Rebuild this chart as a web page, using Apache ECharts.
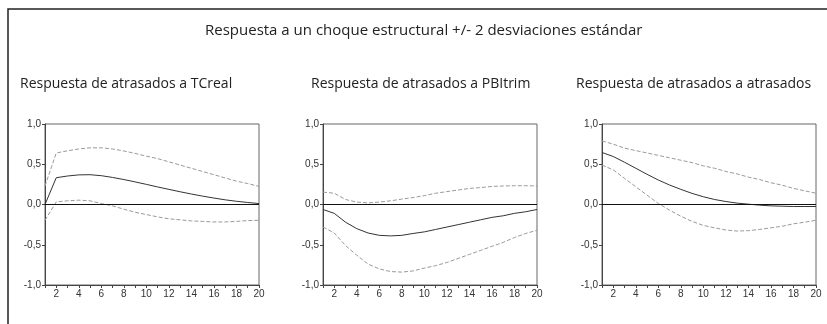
<!DOCTYPE html>
<html><head><meta charset="utf-8">
<script src="https://cdn.jsdelivr.net/npm/echarts@6/dist/echarts.min.js"></script>
<style>html,body{margin:0;padding:0;background:#fff}#c{width:827px;height:324px}</style>
</head><body><div id="c"></div>
<script>
const periods = [1,2,3,4,5,6,7,8,9,10,11,12,13,14,15,16,17,18,19,20];
const mainTitle = 'Respuesta a un choque estructural +/- 2 desviaciones estándar';
const panelTitles = ['Respuesta de atrasados a TCreal','Respuesta de atrasados a PBItrim','Respuesta de atrasados a atrasados'];
const yTicks = [-1, -0.5, 0, 0.5, 1];

const tcrealResp  = [0,0.333,0.354,0.368,0.37,0.358,0.336,0.31,0.281,0.25,0.218,0.188,0.158,0.13,0.104,0.08,0.058,0.04,0.025,0.012];
const tcrealUpper = [0.23,0.64,0.667,0.69,0.704,0.704,0.69,0.665,0.635,0.6,0.57,0.53,0.49,0.45,0.41,0.37,0.33,0.29,0.26,0.225];
const tcrealLower = [-0.196,0.033,0.046,0.054,0.046,0.012,-0.017,-0.058,-0.096,-0.125,-0.154,-0.178,-0.19,-0.204,-0.21,-0.217,-0.217,-0.21,-0.2,-0.196];

const pbiResp  = [-0.062,-0.11,-0.22,-0.3,-0.354,-0.383,-0.39,-0.383,-0.36,-0.34,-0.31,-0.28,-0.25,-0.22,-0.19,-0.16,-0.14,-0.11,-0.09,-0.062];
const pbiUpper = [0.154,0.14,0.062,0.03,0.02,0.03,0.046,0.067,0.087,0.11,0.14,0.16,0.18,0.2,0.21,0.225,0.23,0.233,0.233,0.23];
const pbiLower = [-0.28,-0.354,-0.51,-0.63,-0.74,-0.8,-0.833,-0.84,-0.825,-0.79,-0.76,-0.72,-0.67,-0.62,-0.57,-0.52,-0.47,-0.41,-0.36,-0.32];

const atrResp  = [0.646,0.596,0.525,0.45,0.375,0.304,0.242,0.188,0.138,0.096,0.062,0.037,0.017,0.004,-0.008,-0.017,-0.021,-0.025,-0.025,-0.025];
const atrUpper = [0.79,0.75,0.70,0.67,0.64,0.61,0.58,0.55,0.52,0.48,0.45,0.41,0.38,0.34,0.31,0.27,0.24,0.2,0.17,0.14];
const atrLower = [0.49,0.43,0.325,0.22,0.117,0.012,-0.07,-0.146,-0.21,-0.26,-0.29,-0.317,-0.33,-0.325,-0.31,-0.29,-0.27,-0.24,-0.22,-0.196];

const panels = [
  {resp: tcrealResp, up: tcrealUpper, lo: tcrealLower},
  {resp: pbiResp, up: pbiUpper, lo: pbiLower},
  {resp: atrResp, up: atrUpper, lo: atrLower}
];
const gridLefts = [45, 323, 602];
const gridWidth = 214;
const titleLefts = [15, 306, 571];

const fmt = v => v.toFixed(1).replace('.', ',');
const textFont = '"Open Sans", sans-serif';

const grids = [], xAxes = [], yAxes = [], series = [], titles = [];
titles.push({text: mainTitle, left: 200, top: 18, textStyle:{fontFamily:textFont, fontSize:15, fontWeight:'normal', color:'#222'}});
panels.forEach((p, i) => {
  grids.push({left: gridLefts[i], top: 124, width: gridWidth, height: 161, show: true, borderColor: '#666', borderWidth: 1});
  titles.push({text: panelTitles[i], left: titleLefts[i], top: 72, textStyle:{fontFamily:textFont, fontSize:14, fontWeight:'normal', color:'#222'}});
  xAxes.push({type:'value', gridIndex:i, min:1, max:20, interval:1,
    axisLine:{onZero:false, lineStyle:{color:'#444'}},
    axisTick:{show:true, length:3, lineStyle:{color:'#444'}},
    axisLabel:{fontFamily:'Liberation Sans, Arial, sans-serif', fontSize:10, color:'#333', margin:4,
      formatter: v => (v % 2 === 0 ? String(v) : '')},
    splitLine:{show:false}});
  yAxes.push({type:'value', gridIndex:i, min:-1, max:1, interval:0.5,
    axisLine:{show:true, lineStyle:{color:'#444'}},
    axisTick:{show:true, length:3, lineStyle:{color:'#444'}},
    axisLabel:{fontFamily:'Liberation Sans, Arial, sans-serif', fontSize:10, color:'#333', margin:4, formatter: fmt},
    splitLine:{show:false}});
  const mk = (arr) => periods.map((x, k) => [x, arr[k]]);
  series.push({type:'line', xAxisIndex:i, yAxisIndex:i, data: mk(p.up), showSymbol:false, symbol:'none', silent:true,
    lineStyle:{color:'#999', width:1, type:[4,2]}});
  series.push({type:'line', xAxisIndex:i, yAxisIndex:i, data: mk(p.lo), showSymbol:false, symbol:'none', silent:true,
    lineStyle:{color:'#999', width:1, type:[4,2]}});
  series.push({type:'line', xAxisIndex:i, yAxisIndex:i, data: mk(p.resp), showSymbol:false, symbol:'none', silent:true,
    lineStyle:{color:'#333', width:1},
    markLine:{silent:true, symbol:'none', label:{show:false}, lineStyle:{color:'#111', width:1, type:'solid'}, data:[{yAxis:0}]}});
});

const chart = echarts.init(document.getElementById('c'), null, {renderer:'canvas'});
chart.setOption({
  animation:false,
  title: titles,
  grid: grids, xAxis: xAxes, yAxis: yAxes, series: series,
  graphic: [{type:'rect', shape:{x:8, y:9, width:900, height:400}, style:{fill:'none', stroke:'#222', lineWidth:1.5}, silent:true}]
});
</script></body></html>
